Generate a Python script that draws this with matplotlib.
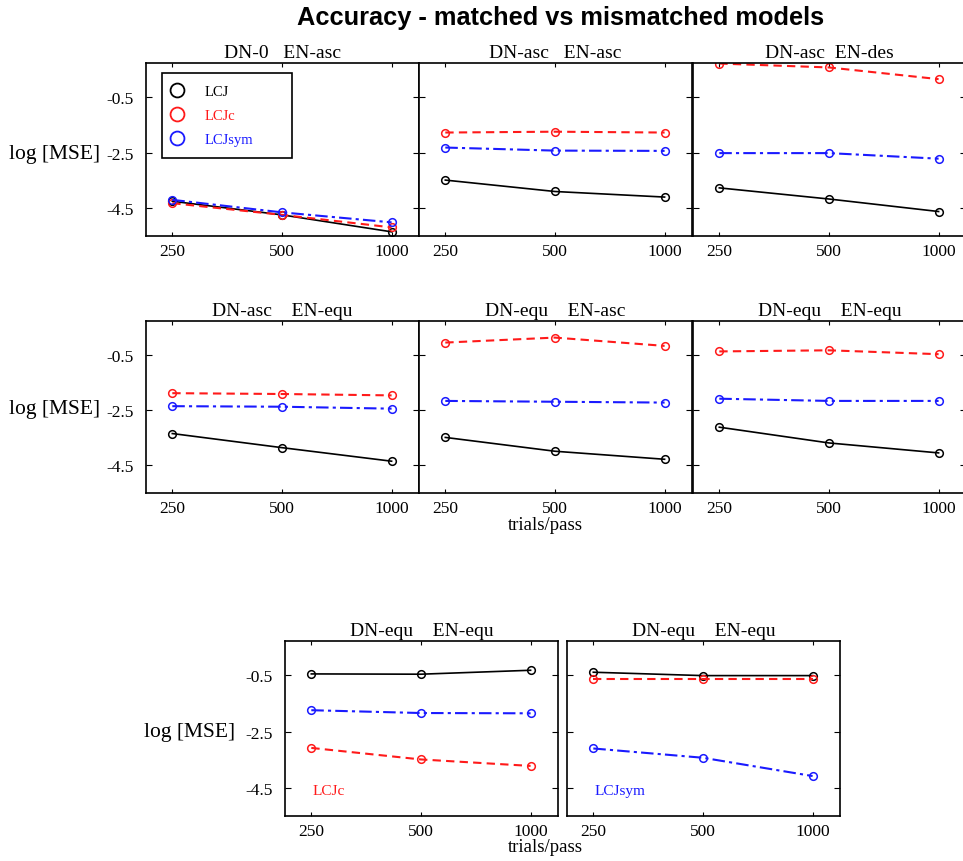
import numpy as np
import matplotlib.pyplot as plt
from matplotlib.lines import Line2D

# datos
trials = ['250', '500', '1000']
titles = ['DN-0   EN-asc', 'DN-asc   EN-asc', 'DN-asc  EN-des',
          'DN-asc    EN-equ', 'DN-equ    EN-asc', 'DN-equ    EN-equ',
          'DN-equ    EN-equ', 'DN-equ    EN-equ']

lcj = [[-4.25, -4.74, -5.35], [-3.49, -3.90, -4.10], [-3.77, -4.17, -4.62],
       [-3.35, -3.86, -4.35], [-3.49, -3.99, -4.28], [-3.12, -3.69, -4.05],
       [-0.45, -0.46, -0.32], [-0.39, -0.51, -0.51]]
lcjc = [[-4.32, -4.74, -5.19], [-1.78, -1.75, -1.78], [0.70, 0.56, 0.14],
        [-1.89, -1.92, -1.97], [-0.06, 0.12, -0.18], [-0.38, -0.34, -0.48],
        [-3.08, -3.49, -3.72], [-0.63, -0.63, -0.63]]
lcjsym = [[-4.20, -4.65, -5.01], [-2.32, -2.43, -2.44], [-2.52, -2.52, -2.72],
          [-2.36, -2.38, -2.45], [-2.17, -2.20, -2.23], [-2.09, -2.17, -2.17],
          [-1.74, -1.84, -1.85], [-3.10, -3.43, -4.08]]

yticks = [-0.5, -2.5, -4.5]
RED = '#ff1a1a'
BLUE = '#1a1aff'
serif = 'Liberation Serif'

W, H = 963, 862
fig = plt.figure(figsize=(W / 100, H / 100), dpi=100)

# posiciones en pixeles (izq, arriba, abajo)
w = 273
boxes = [(146, 64, 237), (419, 64, 237), (693, 64, 237),
         (146, 322, 494), (419, 322, 494), (693, 322, 494),
         (285, 642, 817), (567, 642, 817)]
x = np.arange(3)

axes = []
for i, (l, t, b) in enumerate(boxes):
    ax = fig.add_axes([l / W, 1 - b / H, w / W, (b - t) / H])
    ax.plot(x, lcj[i], color='black', lw=1.2, marker='o', ms=5.5, mfc='none', mew=1.1)
    ax.plot(x, lcjc[i], color=RED, lw=1.5, ls=(0, (4, 2.5)), marker='o', ms=5.5, mfc='none', mew=1.1)
    ax.plot(x, lcjsym[i], color=BLUE, lw=1.5, ls=(0, (6, 2, 1.5, 2)), marker='o', ms=5.5, mfc='none', mew=1.1)
    ax.set_xlim(-0.24, 2.25)
    ax.set_ylim(-5.5, 0.72)
    ax.set_xticks(x)
    ax.set_xticklabels(trials, fontfamily=serif, fontsize=12.5)
    ax.set_yticks(yticks)
    ax.tick_params(axis='x', direction='in', length=3, top=True, bottom=True, pad=5)
    ax.tick_params(axis='y', direction='in', length=4, left=True, right=True, pad=9)
    if i in (0, 3, 6):
        ax.set_yticklabels([str(v) for v in yticks], fontfamily=serif, fontsize=12.5)
    else:
        ax.set_yticklabels([])
    ax.set_title(titles[i], fontfamily=serif, fontsize=14, pad=4)
    for s in ax.spines.values():
        s.set_linewidth(1.2)
    axes.append(ax)

# etiquetas del eje y
for ypix, xpix in [(154, 55), (410, 55), (733, 190)]:
    fig.text(xpix / W, 1 - ypix / H, 'log [MSE]', fontfamily=serif, fontsize=15.5,
             ha='center', va='center')

fig.text(545 / W, 1 - 525 / H, 'trials/pass', fontfamily=serif, fontsize=13.5, ha='center', va='center')
fig.text(545 / W, 1 - 848 / H, 'trials/pass', fontfamily=serif, fontsize=13.5, ha='center', va='center')

fig.text(561 / W, 1 - 18 / H, 'Accuracy - matched vs mismatched models', fontfamily='Liberation Sans',
         fontsize=18.3, fontweight='bold', ha='center', va='center')

# leyenda
handles = [Line2D([], [], ls='none', marker='o', ms=10, mfc='none', mec=c, mew=1.3)
           for c in ['black', RED, BLUE]]
leg = axes[0].legend(handles, ['LCJ', 'LCJc', 'LCJsym'], loc='upper left',
                     bbox_to_anchor=(16 / w, (237 - 76) / 173, 130 / w, 0.01), mode='expand',
                     fancybox=False, edgecolor='black',
                     framealpha=1, prop={'family': serif, 'size': 10.5}, handletextpad=1.6,
                     borderpad=0.8, labelspacing=0.75, handlelength=0.5, borderaxespad=0)
leg.get_frame().set_linewidth(1.2)
for txt, c in zip(leg.get_texts(), ['black', RED, BLUE]):
    txt.set_color(c)

axes[6].text(0.1, 0.145, 'LCJc', transform=axes[6].transAxes, color=RED,
             fontfamily=serif, fontsize=11, ha='left', va='center')
axes[7].text(0.1, 0.145, 'LCJsym', transform=axes[7].transAxes, color=BLUE,
             fontfamily=serif, fontsize=11, ha='left', va='center')

plt.savefig('out.png', dpi=100)
